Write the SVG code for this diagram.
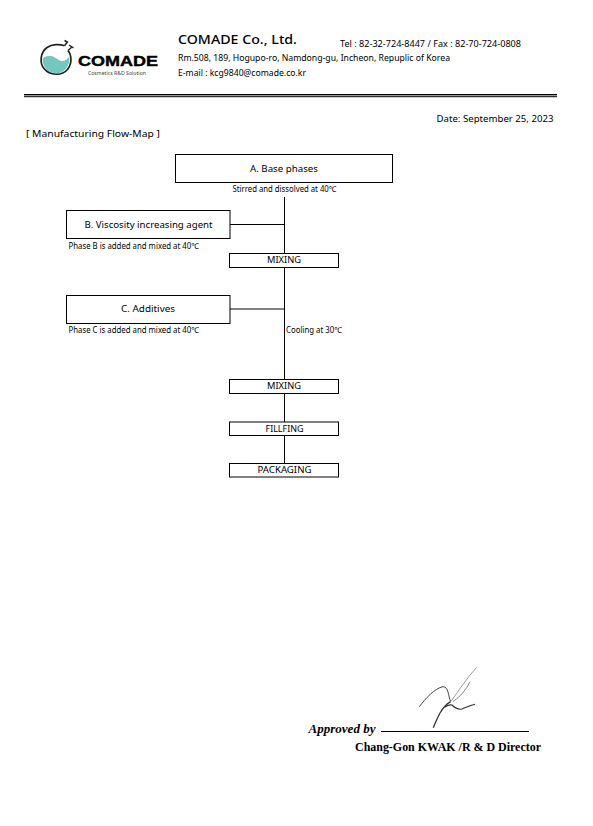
<svg xmlns="http://www.w3.org/2000/svg" width="593" height="826" viewBox="0 0 593 826">
<style>
text{font-family:"Noto Sans","Open Sans","Liberation Sans",sans-serif;fill:#000}
.box{fill:#fff;stroke:#000;stroke-width:1}
.c{stroke:#000;stroke-width:1;fill:none}
.m{font-size:9.5px;text-anchor:middle}
.s{font-size:8px}
.h{font-size:9.5px}
.ser{font-family:"Liberation Serif",serif;font-weight:bold;fill:#000}
</style>
<rect width="593" height="826" fill="#fff"/>
<g id="logo">
<path d="M42.800 58C47 55.500 50 55.200 53 56.500C57 58.300 60 61.500 63 61C65.500 60.500 67.500 58.500 69.300 56.700C70.500 66 64 73.200 56 73.200C47.500 73.200 41.800 66 42.800 58Z" fill="#74c6bf"/>
<path d="M64.500 45.800C60 44 52 43.800 47 47.500C40 52.500 39.500 63 44 68.500C50 76 62 76 67.500 69.500C72 64 72 55.500 68 50.500" fill="none" stroke="#222" stroke-width="1.700"/>
<path d="M64.500 45.800L67.800 41.500M64.500 40.500L68 42.500M68 50.500L72.500 46.500M69 45L73.500 48" stroke="#222" stroke-width="1.500" fill="none"/>
<text x="78" y="65.700" font-size="14" font-weight="bold" textLength="80" lengthAdjust="spacingAndGlyphs" stroke="#000" stroke-width=".4" style="font-family:'Liberation Sans',sans-serif">COMADE</text>
<text x="88" y="74.500" font-size="5" textLength="58" lengthAdjust="spacingAndGlyphs" style="fill:#444">Cosmetics R&amp;D Solution</text>
</g>
<g id="header">
<text x="178" y="44" font-size="13" font-weight="500" textLength="119" lengthAdjust="spacingAndGlyphs">COMADE Co., Ltd.</text>
<text x="340" y="47" class="h" textLength="181" lengthAdjust="spacingAndGlyphs">Tel : 82-32-724-8447 / Fax : 82-70-724-0808</text>
<text x="178" y="61" class="h" textLength="272" lengthAdjust="spacingAndGlyphs">Rm.508, 189, Hogupo-ro, Namdong-gu, Incheon, Repuplic of Korea</text>
<text x="178" y="76" class="h" textLength="128" lengthAdjust="spacingAndGlyphs">E-mail : kcg9840@comade.co.kr</text>
<rect x="24" y="94" width="533" height="1.400" fill="#000"/>
<rect x="24" y="96.200" width="533" height="1" fill="#000"/>
<text x="436.500" y="122" class="h" textLength="117" lengthAdjust="spacingAndGlyphs">Date: September 25, 2023</text>
<text x="26" y="137" class="h" textLength="134" lengthAdjust="spacingAndGlyphs">[ Manufacturing Flow-Map ]</text>
</g>
<g id="connectors">
<path class="c" d="M284.500 197V253.500M284.500 267V379.500M284.500 393.500V422M284.500 435.500V463.500M230 224.500H284.500M230 309H284.500"/>
</g>
<g id="node-a"><rect class="box" x="175.500" y="154.500" width="217" height="28"/><text class="m" x="284" y="172" textLength="68" lengthAdjust="spacingAndGlyphs">A. Base phases</text></g>
<text id="label-a" class="s" x="232.500" y="192" textLength="104" lengthAdjust="spacingAndGlyphs">Stirred and dissolved at 40℃</text>
<g id="node-b"><rect class="box" x="66.500" y="210.500" width="163.500" height="28"/><text class="m" x="148.500" y="228" textLength="128" lengthAdjust="spacingAndGlyphs">B. Viscosity increasing agent</text></g>
<text id="label-b" class="s" x="68.500" y="249" textLength="130.500" lengthAdjust="spacingAndGlyphs">Phase B is added and mixed at 40℃</text>
<g id="node-mix1"><rect class="box" x="229.500" y="253.500" width="109" height="14"/><text class="m" x="284" y="263" textLength="34" lengthAdjust="spacingAndGlyphs">MIXING</text></g>
<g id="node-c"><rect class="box" x="66.500" y="295.500" width="163.500" height="28"/><text class="m" x="148" y="312" textLength="54" lengthAdjust="spacingAndGlyphs">C. Additives</text></g>
<text id="label-c" class="s" x="68.500" y="333" textLength="130.500" lengthAdjust="spacingAndGlyphs">Phase C is added and mixed at 40℃</text>
<text id="label-cool" class="s" x="286" y="333" textLength="56" lengthAdjust="spacingAndGlyphs">Cooling at 30℃</text>
<g id="node-mix2"><rect class="box" x="229.500" y="379.500" width="109" height="14"/><text class="m" x="284" y="389" textLength="34" lengthAdjust="spacingAndGlyphs">MIXING</text></g>
<g id="node-fill"><rect class="box" x="229.500" y="422" width="109" height="13.500"/><text class="m" x="284.500" y="432" textLength="38" lengthAdjust="spacingAndGlyphs">FILLFING</text></g>
<g id="node-pack"><rect class="box" x="229.500" y="463.500" width="109" height="13.500"/><text class="m" x="284.500" y="473" textLength="54" lengthAdjust="spacingAndGlyphs">PACKAGING</text></g>
<g id="approval">
<path d="M419.300 706.700C425 699 435 688 443 686.700C449 687 448 696 450.700 701.700" fill="none" stroke="#444" stroke-width="1"/>
<path d="M450.700 701.700C446 704 443 708 440 713C437 719 435 723 433.300 727.700" fill="none" stroke="#333" stroke-width="1.300"/>
<path d="M450.700 701.700C458 692 466 679 476.700 667.300" fill="none" stroke="#999" stroke-width="1"/>
<path d="M453 701.700C460 697 466 690 470 681.700" fill="none" stroke="#888" stroke-width="1"/>
<path d="M445 707C448 705 450 704.500 452 705C455 708 458 710 462 709C466 707.500 470 705.500 475 704.300" fill="none" stroke="#333" stroke-width="1.100"/>
<text class="ser" x="308.500" y="733" font-size="12.500" font-style="italic" textLength="67" lengthAdjust="spacingAndGlyphs">Approved by</text>
<path d="M381 731.500H529" stroke="#000" stroke-width="1"/>
<text class="ser" x="355" y="751" font-size="12.500" textLength="186" lengthAdjust="spacingAndGlyphs">Chang-Gon KWAK /R &amp; D Director</text>
</g>
</svg>
